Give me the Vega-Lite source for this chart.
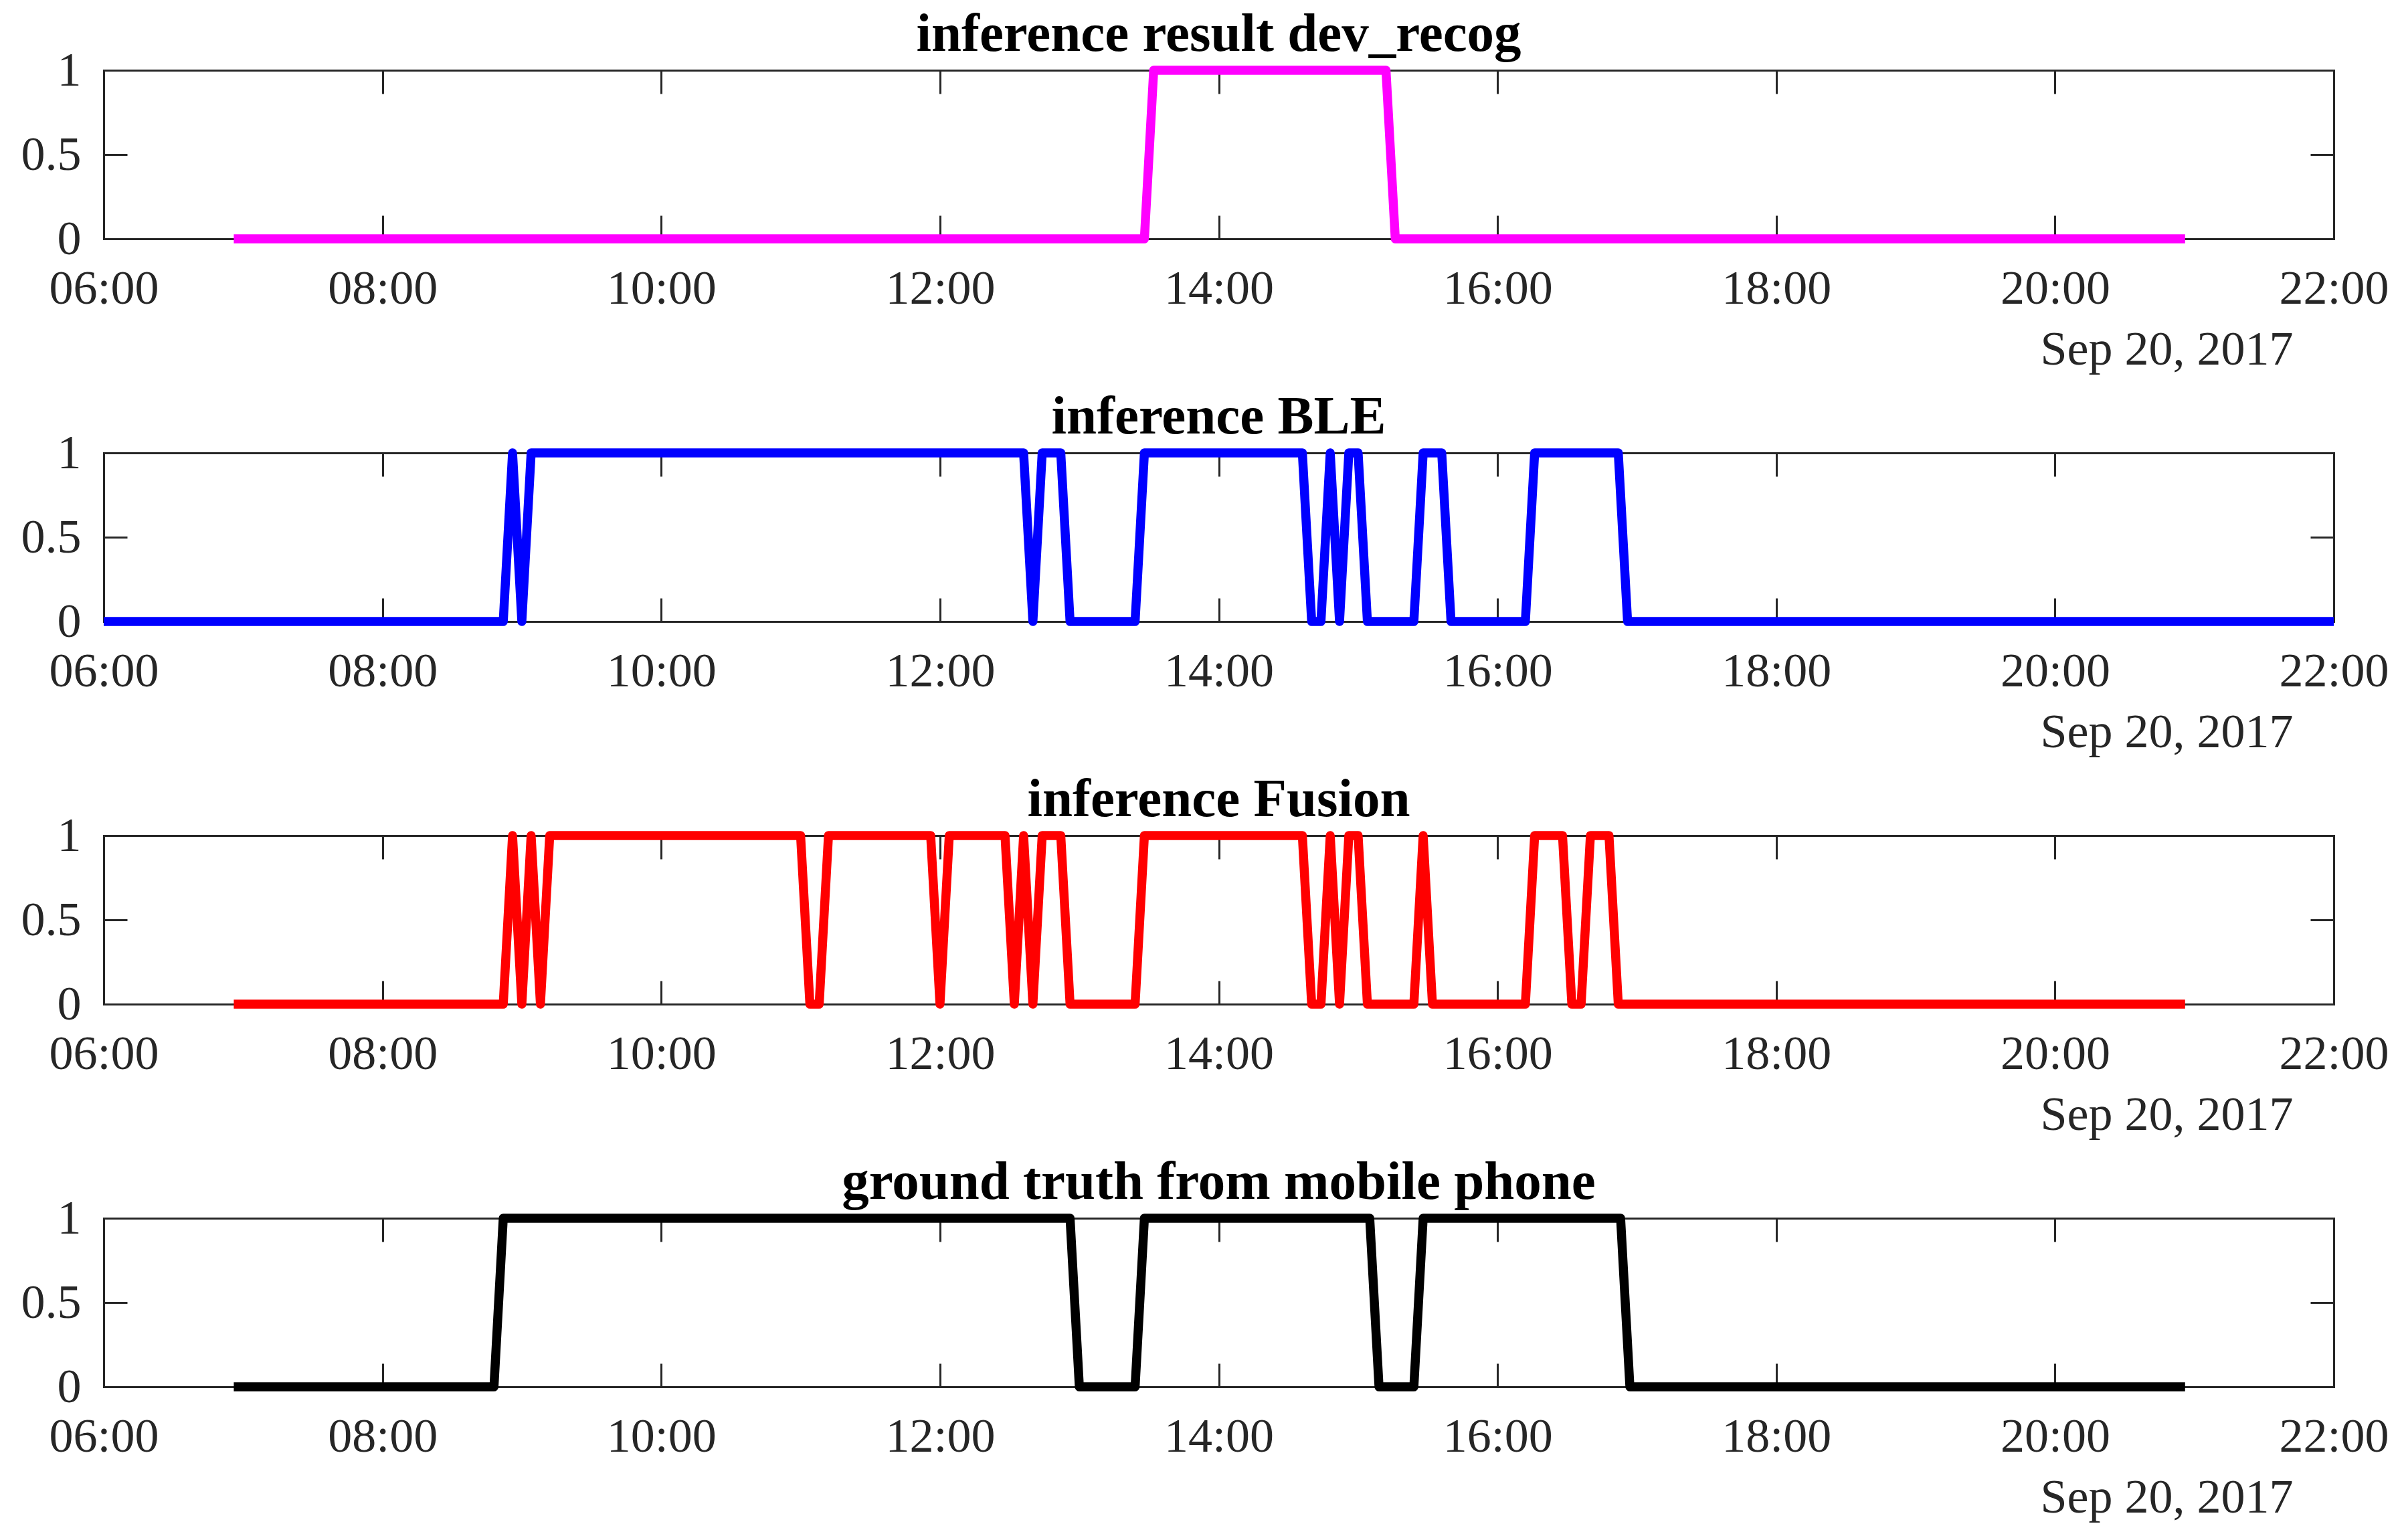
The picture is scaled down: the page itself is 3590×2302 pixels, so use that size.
{
  "$schema": "https://vega.github.io/schema/vega-lite/v6.json",
  "padding": {"left": 31, "top": 10, "right": 0, "bottom": 12},
  "background": "white",
  "config": {"view": {"stroke": null}, "font": "Liberation Serif"},
  "bounds": "flush",
  "spacing": 320,
  "datasets": {
    "p1": [
      {"time": "2017-09-20 06:56", "value": 0},
      {"time": "2017-09-20 13:28", "value": 0},
      {"time": "2017-09-20 13:32", "value": 1},
      {"time": "2017-09-20 15:12", "value": 1},
      {"time": "2017-09-20 15:16", "value": 0},
      {"time": "2017-09-20 20:56", "value": 0}
    ],
    "p2": [
      {"time": "2017-09-20 06:00", "value": 0},
      {"time": "2017-09-20 08:52", "value": 0},
      {"time": "2017-09-20 08:56", "value": 1},
      {"time": "2017-09-20 09:00", "value": 0},
      {"time": "2017-09-20 09:04", "value": 1},
      {"time": "2017-09-20 12:36", "value": 1},
      {"time": "2017-09-20 12:40", "value": 0},
      {"time": "2017-09-20 12:44", "value": 1},
      {"time": "2017-09-20 12:52", "value": 1},
      {"time": "2017-09-20 12:56", "value": 0},
      {"time": "2017-09-20 13:24", "value": 0},
      {"time": "2017-09-20 13:28", "value": 1},
      {"time": "2017-09-20 14:36", "value": 1},
      {"time": "2017-09-20 14:40", "value": 0},
      {"time": "2017-09-20 14:44", "value": 0},
      {"time": "2017-09-20 14:48", "value": 1},
      {"time": "2017-09-20 14:52", "value": 0},
      {"time": "2017-09-20 14:56", "value": 1},
      {"time": "2017-09-20 15:00", "value": 1},
      {"time": "2017-09-20 15:04", "value": 0},
      {"time": "2017-09-20 15:24", "value": 0},
      {"time": "2017-09-20 15:28", "value": 1},
      {"time": "2017-09-20 15:36", "value": 1},
      {"time": "2017-09-20 15:40", "value": 0},
      {"time": "2017-09-20 16:12", "value": 0},
      {"time": "2017-09-20 16:16", "value": 1},
      {"time": "2017-09-20 16:52", "value": 1},
      {"time": "2017-09-20 16:56", "value": 0},
      {"time": "2017-09-20 22:00", "value": 0}
    ],
    "p3": [
      {"time": "2017-09-20 06:56", "value": 0},
      {"time": "2017-09-20 08:52", "value": 0},
      {"time": "2017-09-20 08:56", "value": 1},
      {"time": "2017-09-20 09:00", "value": 0},
      {"time": "2017-09-20 09:04", "value": 1},
      {"time": "2017-09-20 09:08", "value": 0},
      {"time": "2017-09-20 09:12", "value": 1},
      {"time": "2017-09-20 11:00", "value": 1},
      {"time": "2017-09-20 11:04", "value": 0},
      {"time": "2017-09-20 11:08", "value": 0},
      {"time": "2017-09-20 11:12", "value": 1},
      {"time": "2017-09-20 11:56", "value": 1},
      {"time": "2017-09-20 12:00", "value": 0},
      {"time": "2017-09-20 12:04", "value": 1},
      {"time": "2017-09-20 12:28", "value": 1},
      {"time": "2017-09-20 12:32", "value": 0},
      {"time": "2017-09-20 12:36", "value": 1},
      {"time": "2017-09-20 12:40", "value": 0},
      {"time": "2017-09-20 12:44", "value": 1},
      {"time": "2017-09-20 12:52", "value": 1},
      {"time": "2017-09-20 12:56", "value": 0},
      {"time": "2017-09-20 13:24", "value": 0},
      {"time": "2017-09-20 13:28", "value": 1},
      {"time": "2017-09-20 14:36", "value": 1},
      {"time": "2017-09-20 14:40", "value": 0},
      {"time": "2017-09-20 14:44", "value": 0},
      {"time": "2017-09-20 14:48", "value": 1},
      {"time": "2017-09-20 14:52", "value": 0},
      {"time": "2017-09-20 14:56", "value": 1},
      {"time": "2017-09-20 15:00", "value": 1},
      {"time": "2017-09-20 15:04", "value": 0},
      {"time": "2017-09-20 15:24", "value": 0},
      {"time": "2017-09-20 15:28", "value": 1},
      {"time": "2017-09-20 15:32", "value": 0},
      {"time": "2017-09-20 16:12", "value": 0},
      {"time": "2017-09-20 16:16", "value": 1},
      {"time": "2017-09-20 16:28", "value": 1},
      {"time": "2017-09-20 16:32", "value": 0},
      {"time": "2017-09-20 16:36", "value": 0},
      {"time": "2017-09-20 16:40", "value": 1},
      {"time": "2017-09-20 16:48", "value": 1},
      {"time": "2017-09-20 16:52", "value": 0},
      {"time": "2017-09-20 20:56", "value": 0}
    ],
    "p4": [
      {"time": "2017-09-20 06:56", "value": 0},
      {"time": "2017-09-20 08:48", "value": 0},
      {"time": "2017-09-20 08:52", "value": 1},
      {"time": "2017-09-20 12:56", "value": 1},
      {"time": "2017-09-20 13:00", "value": 0},
      {"time": "2017-09-20 13:24", "value": 0},
      {"time": "2017-09-20 13:28", "value": 1},
      {"time": "2017-09-20 15:05", "value": 1},
      {"time": "2017-09-20 15:09", "value": 0},
      {"time": "2017-09-20 15:24", "value": 0},
      {"time": "2017-09-20 15:28", "value": 1},
      {"time": "2017-09-20 16:53", "value": 1},
      {"time": "2017-09-20 16:57", "value": 0},
      {"time": "2017-09-20 20:56", "value": 0}
    ]
  },
  "vconcat": [
    {
      "width": 3333, "height": 252,
      "title": {"text": "inference result dev_recog", "font": "Liberation Serif", "fontSize": 81, "fontWeight": "bold", "color": "#000000", "baseline": "alphabetic", "offset": -87.5, "frame": "group", "anchor": "middle"},
      "data": {"name": "p1"},
      "layer": [
        {
          "mark": {"type": "line", "color": "#FF00FF", "strokeWidth": 13.5, "strokeJoin": "round", "strokeCap": "butt"},
          "encoding": {
            "x": {"field": "time", "type": "temporal", "scale": {"nice": false, "domain": [{"year": 2017, "month": 9, "date": 20, "hours": 6}, {"year": 2017, "month": 9, "date": 20, "hours": 22}]},
              "axis": {"orient": "bottom", "format": "%H:%M", "values": [{"year": 2017, "month": 9, "date": 20, "hours": 6}, {"year": 2017, "month": 9, "date": 20, "hours": 8}, {"year": 2017, "month": 9, "date": 20, "hours": 10}, {"year": 2017, "month": 9, "date": 20, "hours": 12}, {"year": 2017, "month": 9, "date": 20, "hours": 14}, {"year": 2017, "month": 9, "date": 20, "hours": 16}, {"year": 2017, "month": 9, "date": 20, "hours": 18}, {"year": 2017, "month": 9, "date": 20, "hours": 20}, {"year": 2017, "month": 9, "date": 20, "hours": 22}],
                "tickSize": -35, "tickWidth": 3, "tickColor": "#262626", "domainColor": "#262626", "domainWidth": 3, "domainCap": "square", "labelFont": "Liberation Serif", "labelFontSize": 72, "labelColor": "#262626", "labelBaseline": "alphabetic", "labelPadding": 131, "labelFlush": false, "labelOverlap": false, "grid": false,
                "title": "Sep 20, 2017", "titleFont": "Liberation Serif", "titleFontSize": 72, "titleFontWeight": "normal", "titleColor": "#262626", "titleAlign": "right", "titleBaseline": "alphabetic", "titleX": 3272, "titleY": 187}},
            "y": {"field": "value", "type": "quantitative", "scale": {"domain": [0, 1], "nice": false},
              "axis": {"orient": "left", "values": [0, 0.5, 1], "format": "~g", "tickSize": -35, "tickWidth": 3, "tickColor": "#262626", "domainColor": "#262626", "domainWidth": 3, "domainCap": "square", "labelFont": "Liberation Serif", "labelFontSize": 72, "labelColor": "#262626", "labelPadding": 69, "labelBaseline": "middle", "labelAlign": "right", "labelOverlap": false, "labelFlush": false, "grid": false, "title": null}}
          }
        },
        {
          "mark": {"type": "line", "opacity": 0},
          "encoding": {
            "x": {"field": "time", "type": "temporal", "scale": {"nice": false, "domain": [{"year": 2017, "month": 9, "date": 20, "hours": 6}, {"year": 2017, "month": 9, "date": 20, "hours": 22}]},
              "axis": {"orient": "top", "labels": false, "values": [{"year": 2017, "month": 9, "date": 20, "hours": 6}, {"year": 2017, "month": 9, "date": 20, "hours": 8}, {"year": 2017, "month": 9, "date": 20, "hours": 10}, {"year": 2017, "month": 9, "date": 20, "hours": 12}, {"year": 2017, "month": 9, "date": 20, "hours": 14}, {"year": 2017, "month": 9, "date": 20, "hours": 16}, {"year": 2017, "month": 9, "date": 20, "hours": 18}, {"year": 2017, "month": 9, "date": 20, "hours": 20}, {"year": 2017, "month": 9, "date": 20, "hours": 22}],
                "tickSize": -35, "tickWidth": 3, "tickColor": "#262626", "domainColor": "#262626", "domainWidth": 3, "domainCap": "square", "grid": false, "title": null}},
            "y": {"field": "value", "type": "quantitative", "scale": {"domain": [0, 1], "nice": false},
              "axis": {"orient": "right", "labels": false, "values": [0, 0.5, 1], "tickSize": -35, "tickWidth": 3, "tickColor": "#262626", "domainColor": "#262626", "domainWidth": 3, "domainCap": "square", "grid": false, "title": null}}
          }
        }
      ],
      "resolve": {"axis": {"x": "independent", "y": "independent"}}
    },
    {
      "width": 3333, "height": 252,
      "title": {"text": "inference BLE", "font": "Liberation Serif", "fontSize": 81, "fontWeight": "bold", "color": "#000000", "baseline": "alphabetic", "offset": -87.5, "frame": "group", "anchor": "middle"},
      "data": {"name": "p2"},
      "layer": [
        {
          "mark": {"type": "line", "color": "#0000FF", "strokeWidth": 13.5, "strokeJoin": "round", "strokeCap": "butt"},
          "encoding": {
            "x": {"field": "time", "type": "temporal", "scale": {"nice": false, "domain": [{"year": 2017, "month": 9, "date": 20, "hours": 6}, {"year": 2017, "month": 9, "date": 20, "hours": 22}]},
              "axis": {"orient": "bottom", "format": "%H:%M", "values": [{"year": 2017, "month": 9, "date": 20, "hours": 6}, {"year": 2017, "month": 9, "date": 20, "hours": 8}, {"year": 2017, "month": 9, "date": 20, "hours": 10}, {"year": 2017, "month": 9, "date": 20, "hours": 12}, {"year": 2017, "month": 9, "date": 20, "hours": 14}, {"year": 2017, "month": 9, "date": 20, "hours": 16}, {"year": 2017, "month": 9, "date": 20, "hours": 18}, {"year": 2017, "month": 9, "date": 20, "hours": 20}, {"year": 2017, "month": 9, "date": 20, "hours": 22}],
                "tickSize": -35, "tickWidth": 3, "tickColor": "#262626", "domainColor": "#262626", "domainWidth": 3, "domainCap": "square", "labelFont": "Liberation Serif", "labelFontSize": 72, "labelColor": "#262626", "labelBaseline": "alphabetic", "labelPadding": 131, "labelFlush": false, "labelOverlap": false, "grid": false,
                "title": "Sep 20, 2017", "titleFont": "Liberation Serif", "titleFontSize": 72, "titleFontWeight": "normal", "titleColor": "#262626", "titleAlign": "right", "titleBaseline": "alphabetic", "titleX": 3272, "titleY": 187}},
            "y": {"field": "value", "type": "quantitative", "scale": {"domain": [0, 1], "nice": false},
              "axis": {"orient": "left", "values": [0, 0.5, 1], "format": "~g", "tickSize": -35, "tickWidth": 3, "tickColor": "#262626", "domainColor": "#262626", "domainWidth": 3, "domainCap": "square", "labelFont": "Liberation Serif", "labelFontSize": 72, "labelColor": "#262626", "labelPadding": 69, "labelBaseline": "middle", "labelAlign": "right", "labelOverlap": false, "labelFlush": false, "grid": false, "title": null}}
          }
        },
        {
          "mark": {"type": "line", "opacity": 0},
          "encoding": {
            "x": {"field": "time", "type": "temporal", "scale": {"nice": false, "domain": [{"year": 2017, "month": 9, "date": 20, "hours": 6}, {"year": 2017, "month": 9, "date": 20, "hours": 22}]},
              "axis": {"orient": "top", "labels": false, "values": [{"year": 2017, "month": 9, "date": 20, "hours": 6}, {"year": 2017, "month": 9, "date": 20, "hours": 8}, {"year": 2017, "month": 9, "date": 20, "hours": 10}, {"year": 2017, "month": 9, "date": 20, "hours": 12}, {"year": 2017, "month": 9, "date": 20, "hours": 14}, {"year": 2017, "month": 9, "date": 20, "hours": 16}, {"year": 2017, "month": 9, "date": 20, "hours": 18}, {"year": 2017, "month": 9, "date": 20, "hours": 20}, {"year": 2017, "month": 9, "date": 20, "hours": 22}],
                "tickSize": -35, "tickWidth": 3, "tickColor": "#262626", "domainColor": "#262626", "domainWidth": 3, "domainCap": "square", "grid": false, "title": null}},
            "y": {"field": "value", "type": "quantitative", "scale": {"domain": [0, 1], "nice": false},
              "axis": {"orient": "right", "labels": false, "values": [0, 0.5, 1], "tickSize": -35, "tickWidth": 3, "tickColor": "#262626", "domainColor": "#262626", "domainWidth": 3, "domainCap": "square", "grid": false, "title": null}}
          }
        }
      ],
      "resolve": {"axis": {"x": "independent", "y": "independent"}}
    },
    {
      "width": 3333, "height": 252,
      "title": {"text": "inference Fusion", "font": "Liberation Serif", "fontSize": 81, "fontWeight": "bold", "color": "#000000", "baseline": "alphabetic", "offset": -87.5, "frame": "group", "anchor": "middle"},
      "data": {"name": "p3"},
      "layer": [
        {
          "mark": {"type": "line", "color": "#FF0000", "strokeWidth": 13.5, "strokeJoin": "round", "strokeCap": "butt"},
          "encoding": {
            "x": {"field": "time", "type": "temporal", "scale": {"nice": false, "domain": [{"year": 2017, "month": 9, "date": 20, "hours": 6}, {"year": 2017, "month": 9, "date": 20, "hours": 22}]},
              "axis": {"orient": "bottom", "format": "%H:%M", "values": [{"year": 2017, "month": 9, "date": 20, "hours": 6}, {"year": 2017, "month": 9, "date": 20, "hours": 8}, {"year": 2017, "month": 9, "date": 20, "hours": 10}, {"year": 2017, "month": 9, "date": 20, "hours": 12}, {"year": 2017, "month": 9, "date": 20, "hours": 14}, {"year": 2017, "month": 9, "date": 20, "hours": 16}, {"year": 2017, "month": 9, "date": 20, "hours": 18}, {"year": 2017, "month": 9, "date": 20, "hours": 20}, {"year": 2017, "month": 9, "date": 20, "hours": 22}],
                "tickSize": -35, "tickWidth": 3, "tickColor": "#262626", "domainColor": "#262626", "domainWidth": 3, "domainCap": "square", "labelFont": "Liberation Serif", "labelFontSize": 72, "labelColor": "#262626", "labelBaseline": "alphabetic", "labelPadding": 131, "labelFlush": false, "labelOverlap": false, "grid": false,
                "title": "Sep 20, 2017", "titleFont": "Liberation Serif", "titleFontSize": 72, "titleFontWeight": "normal", "titleColor": "#262626", "titleAlign": "right", "titleBaseline": "alphabetic", "titleX": 3272, "titleY": 187}},
            "y": {"field": "value", "type": "quantitative", "scale": {"domain": [0, 1], "nice": false},
              "axis": {"orient": "left", "values": [0, 0.5, 1], "format": "~g", "tickSize": -35, "tickWidth": 3, "tickColor": "#262626", "domainColor": "#262626", "domainWidth": 3, "domainCap": "square", "labelFont": "Liberation Serif", "labelFontSize": 72, "labelColor": "#262626", "labelPadding": 69, "labelBaseline": "middle", "labelAlign": "right", "labelOverlap": false, "labelFlush": false, "grid": false, "title": null}}
          }
        },
        {
          "mark": {"type": "line", "opacity": 0},
          "encoding": {
            "x": {"field": "time", "type": "temporal", "scale": {"nice": false, "domain": [{"year": 2017, "month": 9, "date": 20, "hours": 6}, {"year": 2017, "month": 9, "date": 20, "hours": 22}]},
              "axis": {"orient": "top", "labels": false, "values": [{"year": 2017, "month": 9, "date": 20, "hours": 6}, {"year": 2017, "month": 9, "date": 20, "hours": 8}, {"year": 2017, "month": 9, "date": 20, "hours": 10}, {"year": 2017, "month": 9, "date": 20, "hours": 12}, {"year": 2017, "month": 9, "date": 20, "hours": 14}, {"year": 2017, "month": 9, "date": 20, "hours": 16}, {"year": 2017, "month": 9, "date": 20, "hours": 18}, {"year": 2017, "month": 9, "date": 20, "hours": 20}, {"year": 2017, "month": 9, "date": 20, "hours": 22}],
                "tickSize": -35, "tickWidth": 3, "tickColor": "#262626", "domainColor": "#262626", "domainWidth": 3, "domainCap": "square", "grid": false, "title": null}},
            "y": {"field": "value", "type": "quantitative", "scale": {"domain": [0, 1], "nice": false},
              "axis": {"orient": "right", "labels": false, "values": [0, 0.5, 1], "tickSize": -35, "tickWidth": 3, "tickColor": "#262626", "domainColor": "#262626", "domainWidth": 3, "domainCap": "square", "grid": false, "title": null}}
          }
        }
      ],
      "resolve": {"axis": {"x": "independent", "y": "independent"}}
    },
    {
      "width": 3333, "height": 252,
      "title": {"text": "ground truth from mobile phone", "font": "Liberation Serif", "fontSize": 81, "fontWeight": "bold", "color": "#000000", "baseline": "alphabetic", "offset": -87.5, "frame": "group", "anchor": "middle"},
      "data": {"name": "p4"},
      "layer": [
        {
          "mark": {"type": "line", "color": "#000000", "strokeWidth": 13.5, "strokeJoin": "round", "strokeCap": "butt"},
          "encoding": {
            "x": {"field": "time", "type": "temporal", "scale": {"nice": false, "domain": [{"year": 2017, "month": 9, "date": 20, "hours": 6}, {"year": 2017, "month": 9, "date": 20, "hours": 22}]},
              "axis": {"orient": "bottom", "format": "%H:%M", "values": [{"year": 2017, "month": 9, "date": 20, "hours": 6}, {"year": 2017, "month": 9, "date": 20, "hours": 8}, {"year": 2017, "month": 9, "date": 20, "hours": 10}, {"year": 2017, "month": 9, "date": 20, "hours": 12}, {"year": 2017, "month": 9, "date": 20, "hours": 14}, {"year": 2017, "month": 9, "date": 20, "hours": 16}, {"year": 2017, "month": 9, "date": 20, "hours": 18}, {"year": 2017, "month": 9, "date": 20, "hours": 20}, {"year": 2017, "month": 9, "date": 20, "hours": 22}],
                "tickSize": -35, "tickWidth": 3, "tickColor": "#262626", "domainColor": "#262626", "domainWidth": 3, "domainCap": "square", "labelFont": "Liberation Serif", "labelFontSize": 72, "labelColor": "#262626", "labelBaseline": "alphabetic", "labelPadding": 131, "labelFlush": false, "labelOverlap": false, "grid": false,
                "title": "Sep 20, 2017", "titleFont": "Liberation Serif", "titleFontSize": 72, "titleFontWeight": "normal", "titleColor": "#262626", "titleAlign": "right", "titleBaseline": "alphabetic", "titleX": 3272, "titleY": 187}},
            "y": {"field": "value", "type": "quantitative", "scale": {"domain": [0, 1], "nice": false},
              "axis": {"orient": "left", "values": [0, 0.5, 1], "format": "~g", "tickSize": -35, "tickWidth": 3, "tickColor": "#262626", "domainColor": "#262626", "domainWidth": 3, "domainCap": "square", "labelFont": "Liberation Serif", "labelFontSize": 72, "labelColor": "#262626", "labelPadding": 69, "labelBaseline": "middle", "labelAlign": "right", "labelOverlap": false, "labelFlush": false, "grid": false, "title": null}}
          }
        },
        {
          "mark": {"type": "line", "opacity": 0},
          "encoding": {
            "x": {"field": "time", "type": "temporal", "scale": {"nice": false, "domain": [{"year": 2017, "month": 9, "date": 20, "hours": 6}, {"year": 2017, "month": 9, "date": 20, "hours": 22}]},
              "axis": {"orient": "top", "labels": false, "values": [{"year": 2017, "month": 9, "date": 20, "hours": 6}, {"year": 2017, "month": 9, "date": 20, "hours": 8}, {"year": 2017, "month": 9, "date": 20, "hours": 10}, {"year": 2017, "month": 9, "date": 20, "hours": 12}, {"year": 2017, "month": 9, "date": 20, "hours": 14}, {"year": 2017, "month": 9, "date": 20, "hours": 16}, {"year": 2017, "month": 9, "date": 20, "hours": 18}, {"year": 2017, "month": 9, "date": 20, "hours": 20}, {"year": 2017, "month": 9, "date": 20, "hours": 22}],
                "tickSize": -35, "tickWidth": 3, "tickColor": "#262626", "domainColor": "#262626", "domainWidth": 3, "domainCap": "square", "grid": false, "title": null}},
            "y": {"field": "value", "type": "quantitative", "scale": {"domain": [0, 1], "nice": false},
              "axis": {"orient": "right", "labels": false, "values": [0, 0.5, 1], "tickSize": -35, "tickWidth": 3, "tickColor": "#262626", "domainColor": "#262626", "domainWidth": 3, "domainCap": "square", "grid": false, "title": null}}
          }
        }
      ],
      "resolve": {"axis": {"x": "independent", "y": "independent"}}
    }
  ]
}
